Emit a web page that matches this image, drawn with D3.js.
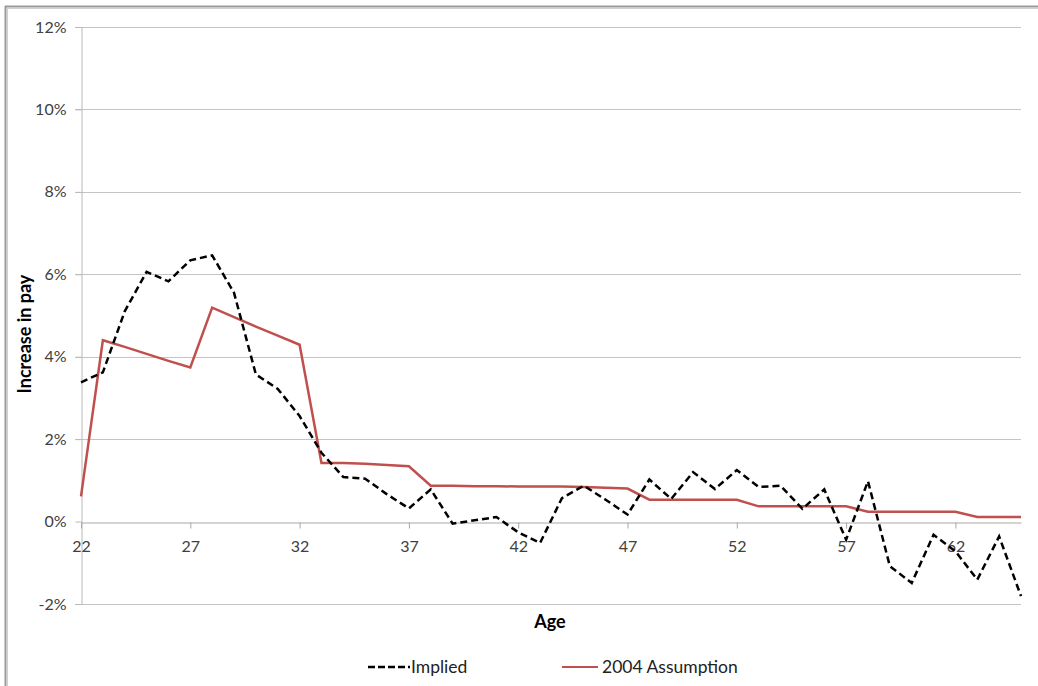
<!DOCTYPE html>
<html>
<head>
<meta charset="utf-8">
<script src="https://cdn.jsdelivr.net/npm/d3@7"></script>
<style>
  body { margin: 0; background: #fff; }
  svg { display: block; font-family: Lato, "Open Sans", sans-serif; }
</style>
</head>
<body>
<svg></svg>
<script>
// размеры svg
const width = 1038;
const height = 686;

// данные
const ages = d3.range(22, 66);
const implied = [3.38, 3.62, 5.10, 6.06, 5.83, 6.34, 6.46, 5.55, 3.57, 3.22,
                 2.56, 1.67, 1.08, 1.04, 0.66, 0.32, 0.78, -0.05, 0.03, 0.11,
                 -0.26, -0.52, 0.57, 0.87, 0.53, 0.17, 1.02, 0.55, 1.20, 0.79,
                 1.25, 0.84, 0.87, 0.31, 0.78, -0.44, 0.98, -1.08, -1.49, -0.32,
                 -0.72, -1.41, -0.36, -1.81];
const assumption = [0.61, 4.40, 4.24, 4.07, 3.90, 3.74, 5.19, 4.96, 4.73, 4.51,
                    4.29, 1.42, 1.42, 1.40, 1.37, 1.34, 0.87, 0.87, 0.86, 0.86,
                    0.85, 0.85, 0.85, 0.84, 0.82, 0.80, 0.53, 0.53, 0.53, 0.53,
                    0.53, 0.37, 0.37, 0.37, 0.37, 0.37, 0.24, 0.24, 0.24, 0.24,
                    0.24, 0.11, 0.11, 0.11];
const yTicks = [-2, 0, 2, 4, 6, 8, 10, 12];
const xTicks = [22, 27, 32, 37, 42, 47, 52, 57, 62];
const seriesNames = ["Implied", "2004 Assumption"];

let svg = d3.select("svg")
    .attr("width", width)
    .attr("height", height);

// рамка диаграммы
svg.append("line").attr("x1", 5.5).attr("y1", 6).attr("x2", 5.5).attr("y2", height)
    .style("stroke", "#9a9a9a").style("stroke-width", 2);
svg.append("line").attr("x1", 5).attr("y1", 6.5).attr("x2", width).attr("y2", 6.5)
    .style("stroke", "#9a9a9a").style("stroke-width", 2);
svg.append("line").attr("x1", 7.5).attr("y1", 8).attr("x2", 7.5).attr("y2", height)
    .style("stroke", "#d0d0d0");
svg.append("line").attr("x1", 7).attr("y1", 8.5).attr("x2", width).attr("y2", 8.5)
    .style("stroke", "#d0d0d0");

const x = d3.scaleLinear().domain([22, 65]).range([81, 1021]);
const y = d3.scaleLinear().domain([-2, 12]).range([604, 27]);

// сетка
svg.append("g")
    .selectAll("line")
    .data(yTicks.filter(d => d !== 0))
    .join("line")
    .attr("x1", 75).attr("x2", 1021)
    .attr("y1", d => Math.round(y(d)) + 0.5)
    .attr("y2", d => Math.round(y(d)) + 0.5)
    .style("stroke", "#c4c4c4");

// ось Y
let yAxis = svg.append("g")
    .attr("transform", "translate(81.5,0)")
    .call(d3.axisLeft(y).tickValues(yTicks).tickSize(6).tickSizeOuter(0).tickPadding(9)
        .tickFormat(d => d + "%"));
yAxis.select(".domain").style("stroke", "#b8b8b8");
yAxis.selectAll(".tick line").style("stroke", "#b8b8b8");
yAxis.selectAll(".tick text").style("font-size", "16px").style("fill", "#404040")
    .style("font-family", "Lato, sans-serif");

// ось X на нуле
let xAxis = svg.append("g")
    .attr("transform", `translate(0,${Math.round(y(0)) + 0.5})`)
    .call(d3.axisBottom(x).tickValues(xTicks).tickSize(6).tickSizeOuter(0).tickPadding(12)
        .tickFormat(d3.format("d")));
xAxis.select(".domain").style("stroke", "#a8a8a8");
xAxis.selectAll(".tick line").style("stroke", "#a8a8a8");
xAxis.selectAll(".tick text").style("font-size", "16px").style("fill", "#404040")
    .style("font-family", "Lato, sans-serif");

// линии
const line = d3.line()
    .x((d, i) => x(ages[i]))
    .y(d => y(d));

svg.append("path")
    .attr("d", line(assumption))
    .style("fill", "none")
    .style("stroke", "#c0504d")
    .style("stroke-width", 2.5)
    .style("stroke-linejoin", "miter");

svg.append("path")
    .attr("d", line(implied))
    .style("fill", "none")
    .style("stroke", "#000")
    .style("stroke-width", 2.5)
    .style("stroke-dasharray", "7,4");

// подписи осей
svg.append("text")
    .attr("transform", `translate(31,${y(4.55)}) rotate(-90)`)
    .attr("text-anchor", "middle")
    .style("font-size", "18px")
    .style("font-weight", "bold")
    .text("Increase in pay");

svg.append("text")
    .attr("x", 550).attr("y", 628)
    .attr("text-anchor", "middle")
    .style("font-size", "18px")
    .style("font-weight", "bold")
    .text("Age");

// легенда
let legend = svg.append("g");
const legendX = [368, 562];
legend.selectAll("line")
    .data(seriesNames)
    .join("line")
    .attr("x1", (d, i) => legendX[i])
    .attr("x2", (d, i) => legendX[i] + (i === 0 ? 42 : 36))
    .attr("y1", 667).attr("y2", 667)
    .style("stroke", (d, i) => i === 0 ? "#000" : "#c0504d")
    .style("stroke-width", (d, i) => i === 0 ? 2.5 : 2)
    .style("stroke-dasharray", (d, i) => i === 0 ? "7,3" : null);
legend.selectAll("text")
    .data(seriesNames)
    .join("text")
    .attr("x", (d, i) => legendX[i] + (i === 0 ? 43 : 40))
    .attr("y", 673)
    .style("font-size", "17.5px")
    .style("fill", "#222")
    .text(d => d);
</script>
</body>
</html>
